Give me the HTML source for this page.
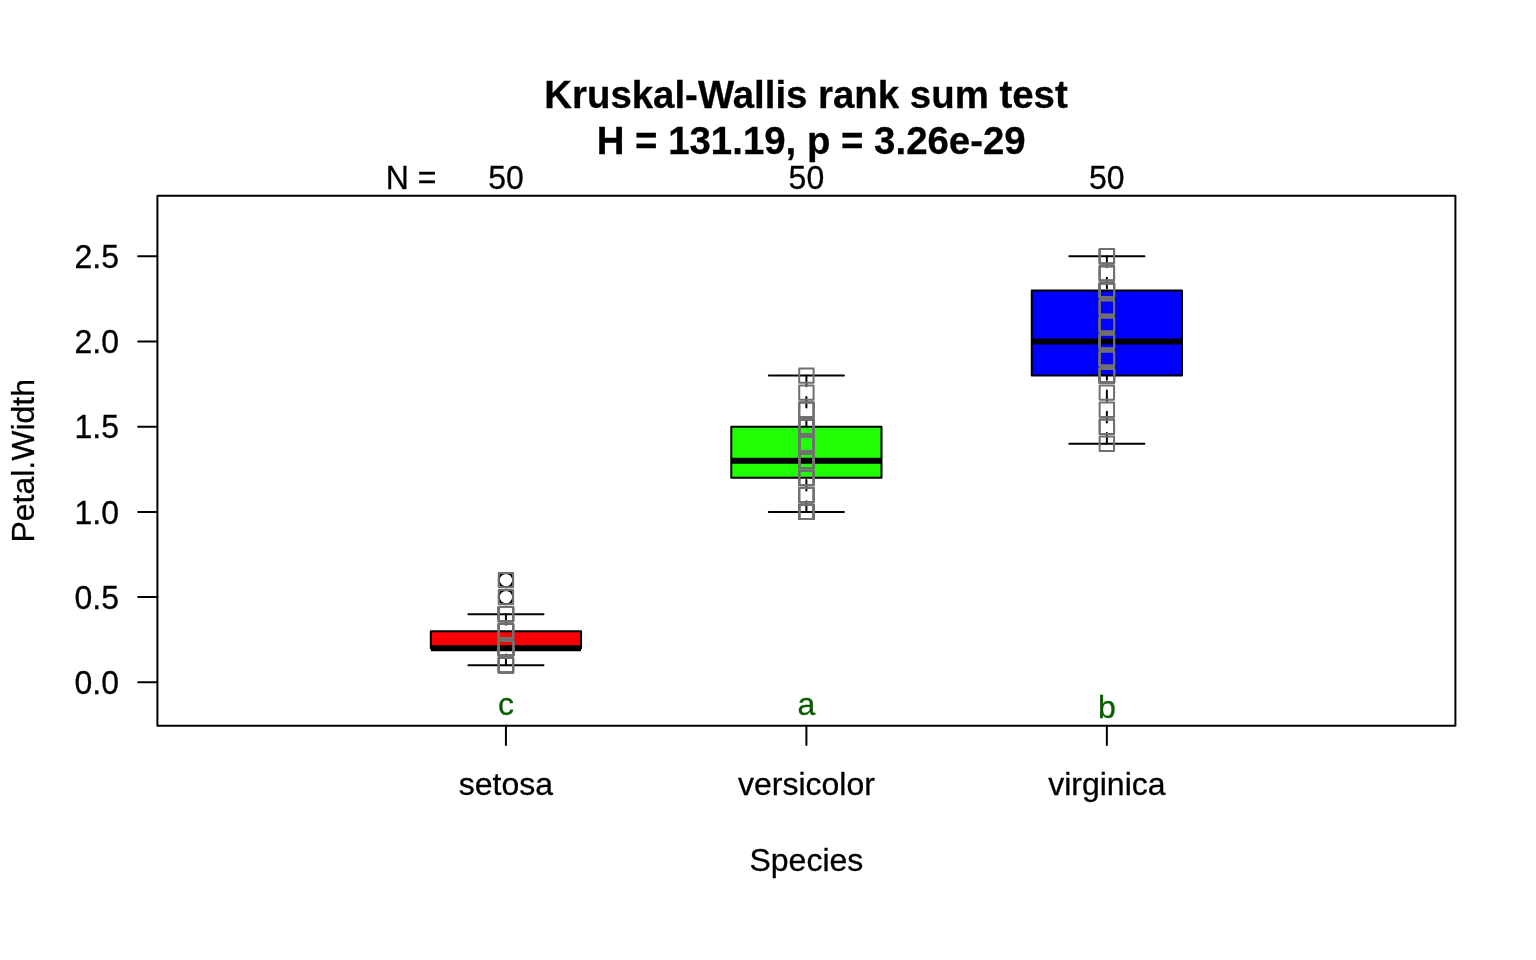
<!DOCTYPE html>
<html><head><meta charset="utf-8"><title>Kruskal-Wallis rank sum test</title>
<style>
html,body{margin:0;padding:0;background:#fff;}
body{width:1536px;height:960px;overflow:hidden;font-family:"Liberation Sans",sans-serif;}
svg{display:block;will-change:transform;}
</style></head><body>
<svg width="1536" height="960" viewBox="0 0 1536 960">
<rect width="1536" height="960" fill="#fff"/>
<g font-family="'Liberation Sans', sans-serif" fill="#000">
<g stroke="#000" stroke-width="2" fill="none" stroke-linecap="round" stroke-linejoin="round">
<line x1="505.94" y1="665.28" x2="505.94" y2="648.24" stroke-dasharray="10.67 10.67"/>
<line x1="505.94" y1="614.16" x2="505.94" y2="631.20" stroke-dasharray="10.67 10.67"/>
<line x1="468.38" y1="665.28" x2="543.49" y2="665.28"/>
<line x1="468.38" y1="614.16" x2="543.49" y2="614.16"/>
<rect x="430.82" y="631.20" width="150.23" height="17.04" fill="#FB0207"/>
<line x1="430.82" y1="648.24" x2="581.05" y2="648.24" stroke-width="6" stroke-linecap="butt"/>
<circle cx="505.94" cy="597.12" r="7.2"/>
<circle cx="505.94" cy="580.08" r="7.2"/>
</g>
<g stroke="#707070" stroke-width="2" fill="none" stroke-linejoin="round">
<rect x="498.74" y="658.08" width="14.4" height="14.4"/><rect x="498.74" y="658.08" width="14.4" height="14.4"/><rect x="498.74" y="658.08" width="14.4" height="14.4"/><rect x="498.74" y="658.08" width="14.4" height="14.4"/><rect x="498.74" y="658.08" width="14.4" height="14.4"/>
<rect x="498.74" y="641.04" width="14.4" height="14.4"/><rect x="498.74" y="641.04" width="14.4" height="14.4"/><rect x="498.74" y="641.04" width="14.4" height="14.4"/><rect x="498.74" y="641.04" width="14.4" height="14.4"/><rect x="498.74" y="641.04" width="14.4" height="14.4"/><rect x="498.74" y="641.04" width="14.4" height="14.4"/><rect x="498.74" y="641.04" width="14.4" height="14.4"/><rect x="498.74" y="641.04" width="14.4" height="14.4"/><rect x="498.74" y="641.04" width="14.4" height="14.4"/><rect x="498.74" y="641.04" width="14.4" height="14.4"/><rect x="498.74" y="641.04" width="14.4" height="14.4"/><rect x="498.74" y="641.04" width="14.4" height="14.4"/><rect x="498.74" y="641.04" width="14.4" height="14.4"/><rect x="498.74" y="641.04" width="14.4" height="14.4"/><rect x="498.74" y="641.04" width="14.4" height="14.4"/><rect x="498.74" y="641.04" width="14.4" height="14.4"/><rect x="498.74" y="641.04" width="14.4" height="14.4"/><rect x="498.74" y="641.04" width="14.4" height="14.4"/><rect x="498.74" y="641.04" width="14.4" height="14.4"/><rect x="498.74" y="641.04" width="14.4" height="14.4"/><rect x="498.74" y="641.04" width="14.4" height="14.4"/><rect x="498.74" y="641.04" width="14.4" height="14.4"/><rect x="498.74" y="641.04" width="14.4" height="14.4"/><rect x="498.74" y="641.04" width="14.4" height="14.4"/><rect x="498.74" y="641.04" width="14.4" height="14.4"/><rect x="498.74" y="641.04" width="14.4" height="14.4"/><rect x="498.74" y="641.04" width="14.4" height="14.4"/><rect x="498.74" y="641.04" width="14.4" height="14.4"/><rect x="498.74" y="641.04" width="14.4" height="14.4"/>
<rect x="498.74" y="624.00" width="14.4" height="14.4"/><rect x="498.74" y="624.00" width="14.4" height="14.4"/><rect x="498.74" y="624.00" width="14.4" height="14.4"/><rect x="498.74" y="624.00" width="14.4" height="14.4"/><rect x="498.74" y="624.00" width="14.4" height="14.4"/><rect x="498.74" y="624.00" width="14.4" height="14.4"/><rect x="498.74" y="624.00" width="14.4" height="14.4"/>
<rect x="498.74" y="606.96" width="14.4" height="14.4"/><rect x="498.74" y="606.96" width="14.4" height="14.4"/><rect x="498.74" y="606.96" width="14.4" height="14.4"/><rect x="498.74" y="606.96" width="14.4" height="14.4"/><rect x="498.74" y="606.96" width="14.4" height="14.4"/><rect x="498.74" y="606.96" width="14.4" height="14.4"/><rect x="498.74" y="606.96" width="14.4" height="14.4"/>
<rect x="498.74" y="589.92" width="14.4" height="14.4"/>
<rect x="498.74" y="572.88" width="14.4" height="14.4"/>
</g>
<g stroke="#000" stroke-width="2" fill="none" stroke-linecap="round" stroke-linejoin="round">
<line x1="806.40" y1="511.92" x2="806.40" y2="477.84" stroke-dasharray="10.67 10.67"/>
<line x1="806.40" y1="375.60" x2="806.40" y2="426.72" stroke-dasharray="10.67 10.67"/>
<line x1="768.84" y1="511.92" x2="843.96" y2="511.92"/>
<line x1="768.84" y1="375.60" x2="843.96" y2="375.60"/>
<rect x="731.28" y="426.72" width="150.23" height="51.12" fill="#21FF06"/>
<line x1="731.28" y1="460.80" x2="881.52" y2="460.80" stroke-width="6" stroke-linecap="butt"/>
</g>
<g stroke="#707070" stroke-width="2" fill="none" stroke-linejoin="round">
<rect x="799.20" y="504.72" width="14.4" height="14.4"/><rect x="799.20" y="504.72" width="14.4" height="14.4"/><rect x="799.20" y="504.72" width="14.4" height="14.4"/><rect x="799.20" y="504.72" width="14.4" height="14.4"/><rect x="799.20" y="504.72" width="14.4" height="14.4"/><rect x="799.20" y="504.72" width="14.4" height="14.4"/><rect x="799.20" y="504.72" width="14.4" height="14.4"/>
<rect x="799.20" y="487.68" width="14.4" height="14.4"/><rect x="799.20" y="487.68" width="14.4" height="14.4"/><rect x="799.20" y="487.68" width="14.4" height="14.4"/>
<rect x="799.20" y="470.64" width="14.4" height="14.4"/><rect x="799.20" y="470.64" width="14.4" height="14.4"/><rect x="799.20" y="470.64" width="14.4" height="14.4"/><rect x="799.20" y="470.64" width="14.4" height="14.4"/><rect x="799.20" y="470.64" width="14.4" height="14.4"/>
<rect x="799.20" y="453.60" width="14.4" height="14.4"/><rect x="799.20" y="453.60" width="14.4" height="14.4"/><rect x="799.20" y="453.60" width="14.4" height="14.4"/><rect x="799.20" y="453.60" width="14.4" height="14.4"/><rect x="799.20" y="453.60" width="14.4" height="14.4"/><rect x="799.20" y="453.60" width="14.4" height="14.4"/><rect x="799.20" y="453.60" width="14.4" height="14.4"/><rect x="799.20" y="453.60" width="14.4" height="14.4"/><rect x="799.20" y="453.60" width="14.4" height="14.4"/><rect x="799.20" y="453.60" width="14.4" height="14.4"/><rect x="799.20" y="453.60" width="14.4" height="14.4"/><rect x="799.20" y="453.60" width="14.4" height="14.4"/><rect x="799.20" y="453.60" width="14.4" height="14.4"/>
<rect x="799.20" y="436.56" width="14.4" height="14.4"/><rect x="799.20" y="436.56" width="14.4" height="14.4"/><rect x="799.20" y="436.56" width="14.4" height="14.4"/><rect x="799.20" y="436.56" width="14.4" height="14.4"/><rect x="799.20" y="436.56" width="14.4" height="14.4"/><rect x="799.20" y="436.56" width="14.4" height="14.4"/><rect x="799.20" y="436.56" width="14.4" height="14.4"/>
<rect x="799.20" y="419.52" width="14.4" height="14.4"/><rect x="799.20" y="419.52" width="14.4" height="14.4"/><rect x="799.20" y="419.52" width="14.4" height="14.4"/><rect x="799.20" y="419.52" width="14.4" height="14.4"/><rect x="799.20" y="419.52" width="14.4" height="14.4"/><rect x="799.20" y="419.52" width="14.4" height="14.4"/><rect x="799.20" y="419.52" width="14.4" height="14.4"/><rect x="799.20" y="419.52" width="14.4" height="14.4"/><rect x="799.20" y="419.52" width="14.4" height="14.4"/><rect x="799.20" y="419.52" width="14.4" height="14.4"/>
<rect x="799.20" y="402.48" width="14.4" height="14.4"/><rect x="799.20" y="402.48" width="14.4" height="14.4"/><rect x="799.20" y="402.48" width="14.4" height="14.4"/>
<rect x="799.20" y="385.44" width="14.4" height="14.4"/>
<rect x="799.20" y="368.40" width="14.4" height="14.4"/>
</g>
<g stroke="#000" stroke-width="2" fill="none" stroke-linecap="round" stroke-linejoin="round">
<line x1="1106.86" y1="443.76" x2="1106.86" y2="375.60" stroke-dasharray="10.67 10.67"/>
<line x1="1106.86" y1="256.32" x2="1106.86" y2="290.40" stroke-dasharray="10.67 10.67"/>
<line x1="1069.31" y1="443.76" x2="1144.42" y2="443.76"/>
<line x1="1069.31" y1="256.32" x2="1144.42" y2="256.32"/>
<rect x="1031.75" y="290.40" width="150.23" height="85.20" fill="#0000FF"/>
<line x1="1031.75" y1="341.52" x2="1181.98" y2="341.52" stroke-width="6" stroke-linecap="butt"/>
</g>
<g stroke="#707070" stroke-width="2" fill="none" stroke-linejoin="round">
<rect x="1099.66" y="436.56" width="14.4" height="14.4"/>
<rect x="1099.66" y="419.52" width="14.4" height="14.4"/><rect x="1099.66" y="419.52" width="14.4" height="14.4"/>
<rect x="1099.66" y="402.48" width="14.4" height="14.4"/>
<rect x="1099.66" y="385.44" width="14.4" height="14.4"/>
<rect x="1099.66" y="368.40" width="14.4" height="14.4"/><rect x="1099.66" y="368.40" width="14.4" height="14.4"/><rect x="1099.66" y="368.40" width="14.4" height="14.4"/><rect x="1099.66" y="368.40" width="14.4" height="14.4"/><rect x="1099.66" y="368.40" width="14.4" height="14.4"/><rect x="1099.66" y="368.40" width="14.4" height="14.4"/><rect x="1099.66" y="368.40" width="14.4" height="14.4"/><rect x="1099.66" y="368.40" width="14.4" height="14.4"/><rect x="1099.66" y="368.40" width="14.4" height="14.4"/><rect x="1099.66" y="368.40" width="14.4" height="14.4"/><rect x="1099.66" y="368.40" width="14.4" height="14.4"/>
<rect x="1099.66" y="351.36" width="14.4" height="14.4"/><rect x="1099.66" y="351.36" width="14.4" height="14.4"/><rect x="1099.66" y="351.36" width="14.4" height="14.4"/><rect x="1099.66" y="351.36" width="14.4" height="14.4"/><rect x="1099.66" y="351.36" width="14.4" height="14.4"/>
<rect x="1099.66" y="334.32" width="14.4" height="14.4"/><rect x="1099.66" y="334.32" width="14.4" height="14.4"/><rect x="1099.66" y="334.32" width="14.4" height="14.4"/><rect x="1099.66" y="334.32" width="14.4" height="14.4"/><rect x="1099.66" y="334.32" width="14.4" height="14.4"/><rect x="1099.66" y="334.32" width="14.4" height="14.4"/>
<rect x="1099.66" y="317.28" width="14.4" height="14.4"/><rect x="1099.66" y="317.28" width="14.4" height="14.4"/><rect x="1099.66" y="317.28" width="14.4" height="14.4"/><rect x="1099.66" y="317.28" width="14.4" height="14.4"/><rect x="1099.66" y="317.28" width="14.4" height="14.4"/><rect x="1099.66" y="317.28" width="14.4" height="14.4"/>
<rect x="1099.66" y="300.24" width="14.4" height="14.4"/><rect x="1099.66" y="300.24" width="14.4" height="14.4"/><rect x="1099.66" y="300.24" width="14.4" height="14.4"/>
<rect x="1099.66" y="283.20" width="14.4" height="14.4"/><rect x="1099.66" y="283.20" width="14.4" height="14.4"/><rect x="1099.66" y="283.20" width="14.4" height="14.4"/><rect x="1099.66" y="283.20" width="14.4" height="14.4"/><rect x="1099.66" y="283.20" width="14.4" height="14.4"/><rect x="1099.66" y="283.20" width="14.4" height="14.4"/><rect x="1099.66" y="283.20" width="14.4" height="14.4"/><rect x="1099.66" y="283.20" width="14.4" height="14.4"/>
<rect x="1099.66" y="266.16" width="14.4" height="14.4"/><rect x="1099.66" y="266.16" width="14.4" height="14.4"/><rect x="1099.66" y="266.16" width="14.4" height="14.4"/>
<rect x="1099.66" y="249.12" width="14.4" height="14.4"/><rect x="1099.66" y="249.12" width="14.4" height="14.4"/><rect x="1099.66" y="249.12" width="14.4" height="14.4"/>
</g>
<rect x="157.4" y="195.8" width="1298.0" height="530.0" fill="none" stroke="#000" stroke-width="2" stroke-linejoin="round"/>
<g stroke="#000" stroke-width="2" stroke-linecap="round">
<line x1="138.20" y1="682.31" x2="157.4" y2="682.31"/>
<line x1="138.20" y1="597.12" x2="157.4" y2="597.12"/>
<line x1="138.20" y1="511.92" x2="157.4" y2="511.92"/>
<line x1="138.20" y1="426.72" x2="157.4" y2="426.72"/>
<line x1="138.20" y1="341.52" x2="157.4" y2="341.52"/>
<line x1="138.20" y1="256.32" x2="157.4" y2="256.32"/>
<line x1="505.94" y1="725.8" x2="505.94" y2="745.00"/>
<line x1="806.40" y1="725.8" x2="806.40" y2="745.00"/>
<line x1="1106.86" y1="725.8" x2="1106.86" y2="745.00"/>
</g>
<g font-size="32" stroke="#000" stroke-width="0.3">
<text transform="translate(119.00 694.01) scale(1 1.045)" text-anchor="end">0.0</text>
<text transform="translate(119.00 608.82) scale(1 1.045)" text-anchor="end">0.5</text>
<text transform="translate(119.00 523.62) scale(1 1.045)" text-anchor="end">1.0</text>
<text transform="translate(119.00 438.42) scale(1 1.045)" text-anchor="end">1.5</text>
<text transform="translate(119.00 353.22) scale(1 1.045)" text-anchor="end">2.0</text>
<text transform="translate(119.00 268.02) scale(1 1.045)" text-anchor="end">2.5</text>
<text x="505.94" y="794.8" text-anchor="middle">setosa</text>
<text transform="translate(505.94 188.90) scale(1 1.045)" text-anchor="middle">50</text>
<text x="806.40" y="794.8" text-anchor="middle">versicolor</text>
<text transform="translate(806.40 188.90) scale(1 1.045)" text-anchor="middle">50</text>
<text x="1106.86" y="794.8" text-anchor="middle">virginica</text>
<text transform="translate(1106.86 188.90) scale(1 1.045)" text-anchor="middle">50</text>
<text transform="translate(385.70 188.90) scale(1 1.045)" text-anchor="start">N =</text>
<text x="806.40" y="871.4" text-anchor="middle">Species</text>
<text transform="translate(34.4 460.80) rotate(-90)" text-anchor="middle">Petal.Width</text>
<g fill="#0A5C02" stroke="#0A5C02" text-anchor="middle">
<text x="505.94" y="714.7">c</text>
<text x="806.40" y="714.7">a</text>
<text x="1106.86" y="717.9">b</text>
</g>
</g>
<g font-size="38.4" font-weight="bold" text-anchor="middle" stroke="#000" stroke-width="0.3">
<text x="806.00" y="107.9">Kruskal-Wallis rank sum test</text>
<text x="811.20" y="154.1">H = 131.19, p = 3.26e-29</text>
</g>
</g></svg>
</body></html>
